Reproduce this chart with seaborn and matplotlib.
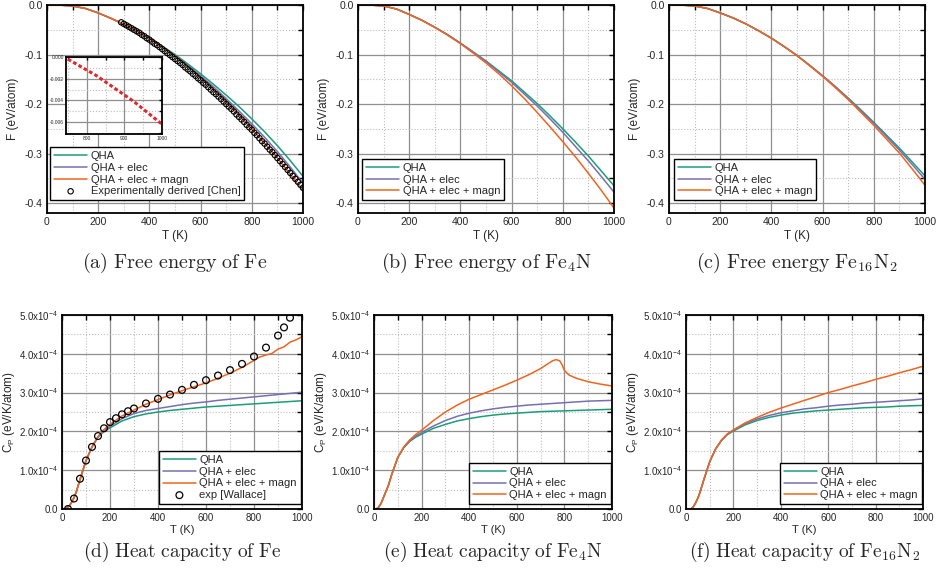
import numpy as np
import matplotlib
matplotlib.use("Agg")
import matplotlib.pyplot as plt
from matplotlib.ticker import MultipleLocator, FuncFormatter
import seaborn as sns

# ---- free energy data (eV/atom) ----
T_F = [0, 50, 100, 150, 200, 250, 300, 350, 400, 450, 500, 550, 600, 650, 700, 750, 800, 850, 900, 950, 1000]

F_fe_qha = [0, -0.0002, -0.002, -0.007, -0.016, -0.027, -0.039, -0.052, -0.067, -0.083, -0.100, -0.119, -0.139,
            -0.160, -0.182, -0.205, -0.230, -0.256, -0.284, -0.314, -0.346]
F_fe_elec = [0, -0.0002, -0.002, -0.007, -0.016, -0.027, -0.039, -0.052, -0.067, -0.084, -0.102, -0.122, -0.143,
             -0.165, -0.189, -0.214, -0.240, -0.267, -0.296, -0.327, -0.360]
F_fe_magn = [0, -0.0002, -0.002, -0.007, -0.016, -0.027, -0.039, -0.052, -0.068, -0.085, -0.103, -0.124, -0.147,
             -0.171, -0.196, -0.222, -0.250, -0.279, -0.309, -0.342, -0.376]

T_chen = [290, 300, 310, 320, 330, 340, 350, 360, 370, 380, 390, 400, 410, 420, 430, 440, 450, 460, 470, 480, 490,
          500, 510, 520, 530, 540, 550, 560, 570, 580, 590, 600, 610, 620, 630, 640, 650, 660, 670, 680, 690, 700,
          710, 720, 730, 740, 750, 760, 770, 780, 790, 800, 810, 820, 830, 840, 850, 860, 870, 880, 890, 900, 910,
          920, 930, 940, 950, 960, 970, 980, 990, 1000]
F_chen = [-0.035, -0.038, -0.041, -0.044, -0.047, -0.050, -0.053, -0.056, -0.060, -0.063, -0.067, -0.070, -0.074,
          -0.078, -0.081, -0.085, -0.089, -0.093, -0.097, -0.101, -0.105, -0.109, -0.113, -0.117, -0.121, -0.126,
          -0.130, -0.134, -0.139, -0.143, -0.148, -0.152, -0.157, -0.161, -0.166, -0.171, -0.176, -0.180, -0.185,
          -0.190, -0.195, -0.200, -0.205, -0.210, -0.215, -0.221, -0.226, -0.231, -0.236, -0.242, -0.247, -0.252,
          -0.258, -0.263, -0.269, -0.275, -0.280, -0.286, -0.292, -0.297, -0.303, -0.309, -0.315, -0.321, -0.327,
          -0.333, -0.339, -0.345, -0.351, -0.357, -0.363, -0.369]

T_inset = [750, 775, 800, 825, 850, 875, 900, 925, 950, 975, 1000]
dF_inset = [-0.0002, -0.0007, -0.0012, -0.0017, -0.0023, -0.0029, -0.0035, -0.0041, -0.0048, -0.0055, -0.0062]

F_fe4n_qha = [0, -0.0002, -0.002, -0.008, -0.019, -0.031, -0.045, -0.060, -0.077, -0.095, -0.113, -0.133, -0.153,
              -0.176, -0.199, -0.224, -0.250, -0.277, -0.305, -0.335, -0.365]
F_fe4n_elec = [0, -0.0002, -0.002, -0.008, -0.019, -0.031, -0.045, -0.060, -0.077, -0.095, -0.114, -0.135, -0.156,
               -0.180, -0.204, -0.230, -0.257, -0.286, -0.315, -0.346, -0.378]
F_fe4n_magn = [0, -0.0002, -0.002, -0.008, -0.019, -0.031, -0.045, -0.061, -0.078, -0.097, -0.117, -0.139, -0.163,
               -0.189, -0.217, -0.246, -0.276, -0.307, -0.340, -0.374, -0.410]

F_fe16n2_qha = [0, -0.0002, -0.002, -0.007, -0.016, -0.026, -0.038, -0.052, -0.067, -0.084, -0.102, -0.122, -0.143,
                -0.165, -0.188, -0.212, -0.237, -0.263, -0.289, -0.317, -0.345]
F_fe16n2_elec = [0, -0.0002, -0.002, -0.007, -0.016, -0.026, -0.038, -0.052, -0.067, -0.084, -0.102, -0.122, -0.143,
                 -0.165, -0.189, -0.214, -0.239, -0.266, -0.293, -0.322, -0.352]
F_fe16n2_magn = [0, -0.0002, -0.002, -0.007, -0.016, -0.026, -0.038, -0.052, -0.067, -0.084, -0.102, -0.123, -0.144,
                 -0.167, -0.191, -0.217, -0.243, -0.271, -0.299, -0.331, -0.364]

# ---- heat capacity data (1e-4 eV/K/atom) ----
T_cp = [0, 10, 20, 30, 40, 50, 60, 75, 100, 125, 150, 175, 200, 250, 300, 350, 400, 450, 500, 550, 600, 650, 700,
        750, 800, 850, 900, 950, 1000]

cp_fe_qha = [0, 0, 0.02, 0.08, 0.17, 0.29, 0.45, 0.76, 1.25, 1.6, 1.85, 2.0, 2.09, 2.27, 2.38, 2.45, 2.5, 2.54,
             2.57, 2.6, 2.63, 2.65, 2.67, 2.69, 2.71, 2.73, 2.75, 2.77, 2.79]
cp_fe_elec = [0, 0, 0.02, 0.08, 0.17, 0.29, 0.45, 0.76, 1.25, 1.6, 1.86, 2.02, 2.13, 2.33, 2.46, 2.54, 2.59, 2.64,
              2.69, 2.73, 2.76, 2.8, 2.83, 2.86, 2.89, 2.92, 2.95, 2.98, 3.01]
T_cp_fe_magn = [0, 10, 20, 30, 40, 50, 60, 75, 100, 125, 150, 175, 200, 250, 300, 350, 400, 450, 500, 550, 600, 650,
                700, 750, 800, 825, 850, 875, 900, 925, 950, 975, 1000]
cp_fe_magn = [0, 0, 0.02, 0.08, 0.17, 0.29, 0.45, 0.76, 1.25, 1.6, 1.87, 2.05, 2.18, 2.4, 2.55, 2.7, 2.82, 2.94,
              3.05, 3.15, 3.25, 3.37, 3.5, 3.65, 3.83, 3.92, 3.97, 4.01, 4.12, 4.18, 4.3, 4.36, 4.44]

T_wallace = [25, 50, 75, 100, 125, 150, 175, 200, 225, 250, 275, 300, 350, 400, 450, 500, 550, 600, 650, 700, 750,
             800, 850, 900, 925, 950]
cp_wallace = [0.0, 0.27, 0.78, 1.25, 1.6, 1.88, 2.08, 2.24, 2.34, 2.44, 2.52, 2.59, 2.72, 2.84, 2.95, 3.07, 3.2,
              3.32, 3.44, 3.58, 3.74, 3.93, 4.16, 4.47, 4.68, 4.93]

cp_fe4n_qha = [0, 0, 0.05, 0.15, 0.3, 0.45, 0.6, 0.9, 1.33, 1.58, 1.74, 1.85, 1.93, 2.08, 2.18, 2.27, 2.33, 2.38,
               2.42, 2.45, 2.47, 2.49, 2.51, 2.52, 2.53, 2.54, 2.55, 2.56, 2.57]
cp_fe4n_elec = [0, 0, 0.05, 0.15, 0.3, 0.45, 0.6, 0.9, 1.33, 1.59, 1.76, 1.88, 1.97, 2.14, 2.28, 2.39, 2.47, 2.53,
                2.58, 2.62, 2.65, 2.68, 2.7, 2.72, 2.74, 2.76, 2.78, 2.79, 2.8]
T_cp_fe4n_magn = [0, 10, 20, 30, 40, 50, 60, 75, 100, 125, 150, 175, 200, 250, 300, 350, 400, 450, 500, 550, 600,
                  650, 700, 725, 750, 765, 780, 790, 800, 820, 850, 900, 950, 1000]
cp_fe4n_magn = [0, 0, 0.05, 0.15, 0.3, 0.45, 0.6, 0.9, 1.33, 1.6, 1.78, 1.92, 2.03, 2.28, 2.5, 2.68, 2.83, 2.95,
                3.07, 3.19, 3.32, 3.46, 3.62, 3.72, 3.82, 3.85, 3.82, 3.72, 3.57, 3.45, 3.37, 3.28, 3.22, 3.17]

cp_fe16n2_qha = [0, 0, 0, 0.05, 0.15, 0.28, 0.45, 0.75, 1.22, 1.55, 1.77, 1.92, 2.01, 2.17, 2.28, 2.36, 2.42, 2.47,
                 2.5, 2.53, 2.55, 2.57, 2.59, 2.61, 2.62, 2.63, 2.65, 2.66, 2.67]
cp_fe16n2_elec = [0, 0, 0, 0.05, 0.15, 0.28, 0.45, 0.75, 1.22, 1.55, 1.77, 1.93, 2.03, 2.2, 2.32, 2.41, 2.48, 2.53,
                  2.58, 2.61, 2.65, 2.68, 2.7, 2.73, 2.75, 2.77, 2.79, 2.81, 2.84]
cp_fe16n2_magn = [0, 0, 0, 0.05, 0.15, 0.28, 0.45, 0.75, 1.22, 1.55, 1.78, 1.94, 2.04, 2.22, 2.36, 2.49, 2.6, 2.7,
                  2.8, 2.9, 3.0, 3.08, 3.17, 3.25, 3.34, 3.42, 3.51, 3.59, 3.68]

labels = ["QHA", "QHA + elec", "QHA + elec + magn"]
captions_top = [r"$\mathrm{(a)\ Free\ energy\ of\ Fe}$",
                r"$\mathrm{(b)\ Free\ energy\ of\ Fe_4N}$",
                r"$\mathrm{(c)\ Free\ energy\ Fe_{16}N_2}$"]
captions_bot = [r"$\mathrm{(d)\ Heat\ capacity\ of\ Fe}$",
                r"$\mathrm{(e)\ Heat\ capacity\ of\ Fe_4N}$",
                r"$\mathrm{(f)\ Heat\ capacity\ of\ Fe_{16}N_2}$"]

sns.set_theme(style="white")
plt.rcParams["font.family"] = ["Liberation Sans", "DejaVu Sans"]
plt.rcParams["axes.unicode_minus"] = False
plt.rcParams["mathtext.fontset"] = "custom"
plt.rcParams["mathtext.rm"] = "Liberation Sans"
plt.rcParams["mathtext.it"] = "Liberation Sans:italic"
plt.rcParams["mathtext.default"] = "regular"

colors = ["#1b9e77", "#7570b3", "#f0641e"]

W, H = 937, 577
fig = plt.figure(figsize=(W / 100, H / 100), dpi=100)


def px_axes(x0, x1, y0, y1):
    return fig.add_axes([x0 / W, 1 - y1 / H, (x1 - x0) / W, (y1 - y0) / H])


def style_axes(ax, xmaj, xmin, ymaj, ymin, fs=7.5):
    ax.xaxis.set_major_locator(MultipleLocator(xmaj))
    ax.xaxis.set_minor_locator(MultipleLocator(xmin))
    ax.yaxis.set_major_locator(MultipleLocator(ymaj))
    ax.yaxis.set_minor_locator(MultipleLocator(ymin))
    ax.grid(True, which="major", color="#8f8f8f", lw=0.9, ls="-")
    ax.grid(True, which="minor", color="#bdbdbd", lw=0.8, ls=":")
    ax.set_axisbelow(True)
    ax.tick_params(which="both", direction="in", top=True, right=True, length=3.5, width=1.0,
                   labelsize=fs, color="black", pad=3)
    for s in ax.spines.values():
        s.set_color("black")
        s.set_linewidth(1.3)


def add_legend(ax, loc, anchor):
    leg = ax.legend(loc=loc, bbox_to_anchor=anchor, fontsize=8, frameon=True, fancybox=False,
                    edgecolor="black", framealpha=1, borderaxespad=0, labelspacing=0.15,
                    handlelength=3.0, handletextpad=0.3, borderpad=0.35)
    leg.get_frame().set_linewidth(1.0)


top_boxes = [(47, 303), (358, 614), (669, 925)]
bot_boxes = [(62, 302), (374, 612), (686, 923)]
F_sets = [(F_fe_qha, F_fe_elec, F_fe_magn), (F_fe4n_qha, F_fe4n_elec, F_fe4n_magn),
          (F_fe16n2_qha, F_fe16n2_elec, F_fe16n2_magn)]
cp_sets = [((T_cp, cp_fe_qha), (T_cp, cp_fe_elec), (T_cp_fe_magn, cp_fe_magn)),
           ((T_cp, cp_fe4n_qha), (T_cp, cp_fe4n_elec), (T_cp_fe4n_magn, cp_fe4n_magn)),
           ((T_cp, cp_fe16n2_qha), (T_cp, cp_fe16n2_elec), (T_cp, cp_fe16n2_magn))]
leg_top = [(0.012, 0.062), (0.016, 0.062), (0.02, 0.062)]

# ---- free energy row ----
for i, (x0, x1) in enumerate(top_boxes):
    ax = px_axes(x0, x1, 5, 213)
    for vals, c, lab in zip(F_sets[i], colors, labels):
        sns.lineplot(x=T_F, y=vals, ax=ax, color=c, lw=1.1, label=lab)
    if i == 0:
        sns.scatterplot(x=T_chen, y=F_chen, ax=ax, marker="o", s=15, facecolor="none",
                        edgecolor="black", linewidth=0.8, label="Experimentally derived [Chen]", zorder=3)
    ax.set_xlim(0, 1000)
    ax.set_ylim(-0.42, 0)
    style_axes(ax, 200, 100, 0.1, 0.05)
    ax.yaxis.set_major_formatter(FuncFormatter(lambda v, p: f"{v:.1f}"))
    ax.set_xlabel("T (K)", fontsize=8.5, labelpad=2)
    ax.set_ylabel("F (eV/atom)", fontsize=8.5, labelpad=4)
    add_legend(ax, "lower left", leg_top[i])
    fig.text(((x0 + x1) / 2) / W, 1 - 263 / H, captions_top[i], ha="center", va="center",
             fontsize=14.5, math_fontfamily="cm")

# inset in (a)
axi = px_axes(66, 162, 57, 134)
sns.lineplot(x=T_inset, y=dF_inset, ax=axi, color="#e3262c", lw=2.2, ls=(0, (1.2, 0.8)))
axi.set_xlim(745, 1000)
axi.set_ylim(-0.0071, 0.0)
style_axes(axi, 100, 50, 0.002, 0.001, fs=3.5)
axi.tick_params(which="both", length=2, pad=1.5)
axi.yaxis.set_major_formatter(FuncFormatter(lambda v, p: f"{v:.3f}"))
axi.set_xlabel("")
axi.set_ylabel("")

# ---- heat capacity row ----
cp_fmt = FuncFormatter(lambda v, p: "0.0" if abs(v) < 1e-9 else f"{v * 1e4:.1f}x10$^{{-4}}$")
for i, (x0, x1) in enumerate(bot_boxes):
    ax = px_axes(x0, x1, 315, 509)
    for (tt, vals), c, lab in zip(cp_sets[i], colors, labels):
        sns.lineplot(x=tt, y=np.array(vals) * 1e-4, ax=ax, color=c, lw=1.1, label=lab)
    if i == 0:
        sns.scatterplot(x=T_wallace, y=np.array(cp_wallace) * 1e-4, ax=ax, marker="o", s=24,
                        facecolor="none", edgecolor="black", linewidth=0.9, label="exp [Wallace]", zorder=3)
    ax.set_xlim(0, 1000)
    ax.set_ylim(0, 5e-4)
    style_axes(ax, 200, 100, 1e-4, 0.5e-4, fs=7)
    ax.yaxis.set_major_formatter(cp_fmt)
    ax.set_xlabel("T (K)", fontsize=8, labelpad=1)
    ax.set_ylabel("C$_P$ (eV/K/atom)", fontsize=8.5, labelpad=1)
    add_legend(ax, "lower right", (0.995, 0.026))
    fig.text(((x0 + x1) / 2) / W, 1 - 552 / H, captions_bot[i], ha="center", va="center",
             fontsize=14, math_fontfamily="cm")

fig.savefig("out.png", dpi=100)
